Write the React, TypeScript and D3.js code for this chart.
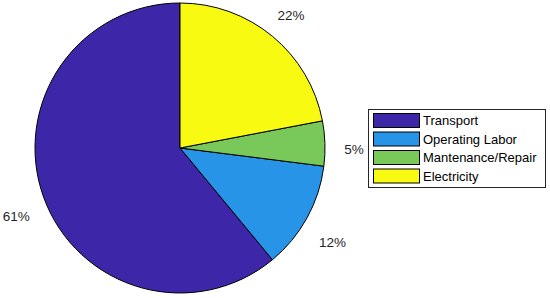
import { useEffect, useRef } from 'react';
import * as d3 from 'd3';

const categories = ['Transport', 'Operating Labor', 'Mantenance/Repair', 'Electricity'];
const shares = [61, 12, 5, 22];
const colors = ['#3e26a8', '#2794e8', '#78c85a', '#f9fa12'];

export default function App() {
  const ref = useRef<SVGSVGElement>(null);

  useEffect(() => {
    if (!ref.current) return;
    const svg = d3.select(ref.current);
    svg.selectAll('*').remove();

    const cx = 180;
    const cy = 148;
    const r = 145;

    const data = categories.map((c, i) => ({ name: c, value: shares[i], color: colors[i] }));

    // matlab goes counter-clockwise from 12 o'clock
    const pie = d3
      .pie<(typeof data)[number]>()
      .sort(null)
      .value((d) => d.value)
      .startAngle(0)
      .endAngle(-2 * Math.PI);

    const arc = d3.arc<d3.PieArcDatum<(typeof data)[number]>>().innerRadius(0).outerRadius(r);
    const labelArcX = d3
      .arc<d3.PieArcDatum<(typeof data)[number]>>()
      .innerRadius(r * 1.2)
      .outerRadius(r * 1.2);
    const labelArcY = d3
      .arc<d3.PieArcDatum<(typeof data)[number]>>()
      .innerRadius(r * 1.25)
      .outerRadius(r * 1.25);

    const g = svg.append('g').attr('transform', `translate(${cx},${cy})`);
    const arcs = pie(data);

    g.selectAll('path')
      .data(arcs)
      .enter()
      .append('path')
      .attr('d', arc)
      .attr('fill', (d) => d.data.color)
      .attr('stroke', '#000')
      .attr('stroke-width', 1);

    g.selectAll('text')
      .data(arcs)
      .enter()
      .append('text')
      .attr('x', (d) => labelArcX.centroid(d)[0])
      .attr('y', (d) => labelArcY.centroid(d)[1] + 7)
      .attr('text-anchor', 'middle')
      .attr('dy', '0.35em')
      .style('font-family', '"Liberation Sans", Arial, sans-serif')
      .style('font-size', '13.5px')
      .attr('fill', '#262626')
      .text((d) => `${d.data.value}%`);

    // legend
    const lx = 368;
    const ly = 109;
    const rowH = 18.5;
    const legend = svg.append('g');
    legend
      .append('rect')
      .attr('x', lx + 0.5)
      .attr('y', ly + 0.5)
      .attr('width', 177)
      .attr('height', 78)
      .attr('fill', '#fff')
      .attr('stroke', '#262626')
      .attr('stroke-width', 1);

    data.forEach((d, i) => {
      const y = ly + 4 + i * rowH;
      legend
        .append('rect')
        .attr('x', lx + 5.5)
        .attr('y', y + 0.5)
        .attr('width', 46)
        .attr('height', 14)
        .attr('fill', d.color)
        .attr('stroke', '#000')
        .attr('stroke-width', 1);
      legend
        .append('text')
        .attr('x', lx + 55)
        .attr('y', y + 7.5)
        .attr('dy', '0.35em')
        .style('font-family', '"Liberation Sans", Arial, sans-serif')
        .style('font-size', '13px')
        .attr('fill', '#000')
        .text(d.name);
    });
  }, []);

  return (
    <svg
      ref={ref}
      width={550}
      height={298}
      style={{ position: 'absolute', left: 0, top: 0, background: '#fff' }}
    />
  );
}
